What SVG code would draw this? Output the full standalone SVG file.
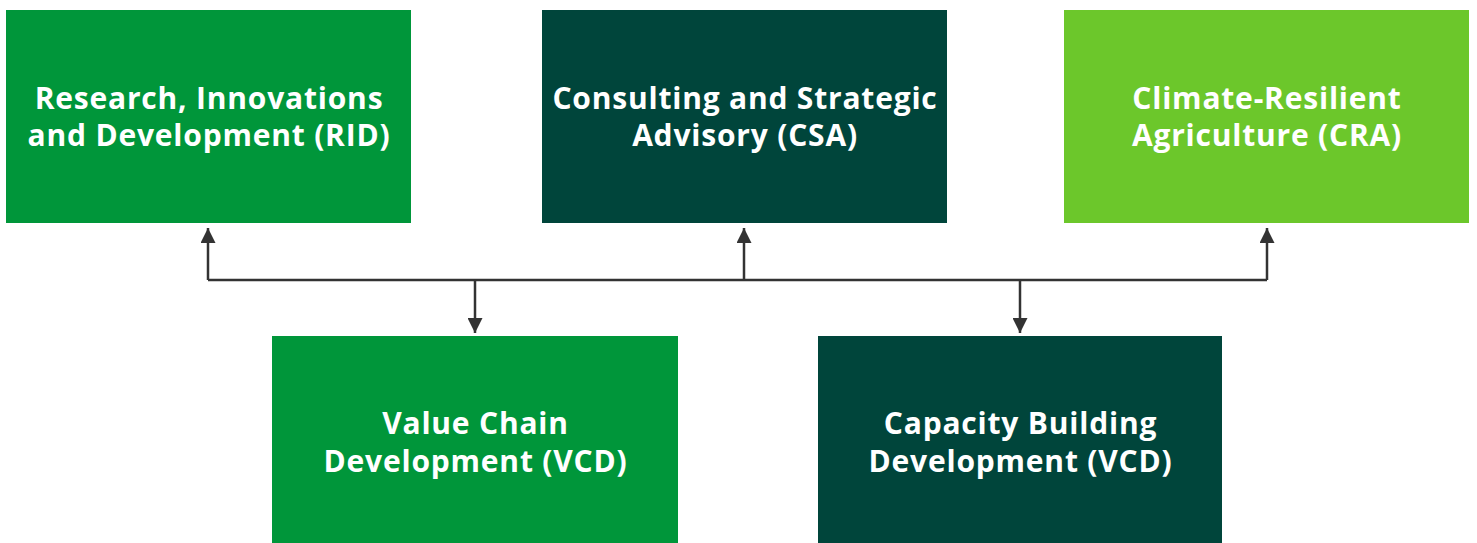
<svg xmlns="http://www.w3.org/2000/svg" width="1477" height="543" viewBox="0 0 1477 543">
<style>
.lbl{font-family:"Open Sans","Liberation Sans",sans-serif;font-weight:700;font-size:30px;letter-spacing:0.8px;fill:#ffffff;text-anchor:middle}
.conn{fill:none;stroke:#333333;stroke-width:2.5}
</style>
<defs>
<marker id="ah" viewBox="0 0 10 10" refX="10" refY="5" markerWidth="6.4" markerHeight="6" orient="auto" markerUnits="strokeWidth">
<path d="M0,0 L10,5 L0,10 z" fill="#333333"/>
</marker>
</defs>
<rect width="1477" height="543" fill="#ffffff"/>
<g id="connectors">
<path class="conn" d="M208,280 H1267"/>
<path class="conn" d="M208,280 V228" marker-end="url(#ah)"/>
<path class="conn" d="M744,280 V228" marker-end="url(#ah)"/>
<path class="conn" d="M1267,280 V228" marker-end="url(#ah)"/>
<path class="conn" d="M475,280 V333" marker-end="url(#ah)"/>
<path class="conn" d="M1020,280 V333" marker-end="url(#ah)"/>
</g>
<g id="rid">
<rect x="6" y="10" width="405" height="213" fill="#00963A"/>
<text class="lbl" x="209" y="109">Research, Innovations</text>
<text class="lbl" x="209" y="146">and Development (RID)</text>
</g>
<g id="csa">
<rect x="542" y="10" width="405" height="213" fill="#00453B"/>
<text class="lbl" x="745" y="109">Consulting and Strategic</text>
<text class="lbl" x="745" y="146">Advisory (CSA)</text>
</g>
<g id="cra">
<rect x="1064" y="10" width="405" height="213" fill="#6CC72B"/>
<text class="lbl" x="1267" y="109">Climate-Resilient</text>
<text class="lbl" x="1267" y="146">Agriculture (CRA)</text>
</g>
<g id="vcd">
<rect x="272" y="336" width="406" height="207" fill="#00963A"/>
<text class="lbl" x="475.5" y="434">Value Chain</text>
<text class="lbl" x="475.5" y="472">Development (VCD)</text>
</g>
<g id="cbd">
<rect x="818" y="336" width="404" height="207" fill="#00453B"/>
<text class="lbl" x="1020.5" y="434">Capacity Building</text>
<text class="lbl" x="1020.5" y="472">Development (VCD)</text>
</g>
</svg>
